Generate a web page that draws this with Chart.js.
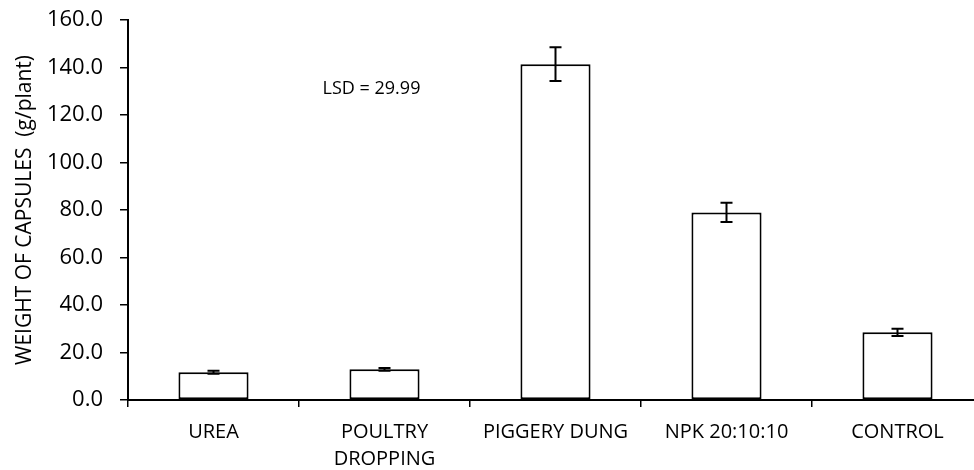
<!DOCTYPE html>
<html>
<head>
<meta charset="utf-8">
<script src="https://cdn.jsdelivr.net/npm/chart.js@4.4.0/dist/chart.umd.min.js"></script>
<style>
  html, body { margin: 0; padding: 0; background: #fff; overflow: hidden; }
  #wrap { width: 990px; height: 470px; }
</style>
</head>
<body>
<div id="wrap"><canvas id="chart" width="990" height="470"></canvas></div>
<script>
// data
const categories = ['UREA', ['POULTRY', 'DROPPING'], 'PIGGERY DUNG', 'NPK 20:10:10', 'CONTROL']
const weights = [11.7, 12.9, 141.4, 79.0, 28.5]
const errors = [0.6, 0.6, 7.1, 4.1, 1.5]
const yTicks = [0, 20, 40, 60, 80, 100, 120, 140, 160]
const lsdText = 'LSD = 29.99'

const FONT = "'Open Sans', 'Liberation Sans', sans-serif"

// error bars drawn through the scales
const errorBars = {
  id: 'errorBars',
  afterDatasetsDraw(chart) {
    const ctx = chart.ctx
    const y = chart.scales.y
    const meta = chart.getDatasetMeta(0)
    ctx.save()
    ctx.strokeStyle = '#000'
    ctx.lineWidth = 2
    meta.data.forEach((bar, i) => {
      const top = y.getPixelForValue(weights[i] + errors[i])
      const bot = y.getPixelForValue(weights[i] - errors[i])
      ctx.beginPath()
      ctx.moveTo(bar.x, top); ctx.lineTo(bar.x, bot)
      ctx.moveTo(bar.x - 6, top); ctx.lineTo(bar.x + 6, top)
      ctx.moveTo(bar.x - 6, bot); ctx.lineTo(bar.x + 6, bot)
      ctx.stroke()
    })
    ctx.restore()
  }
}

// LSD note
const lsdNote = {
  id: 'lsdNote',
  afterDraw(chart) {
    const ctx = chart.ctx
    const x = chart.scales.x.getPixelForValue(1) - 13
    const y = chart.scales.y.getPixelForValue(131)
    ctx.save()
    ctx.fillStyle = '#000'
    ctx.font = '18px ' + FONT
    ctx.textAlign = 'center'
    ctx.textBaseline = 'middle'
    ctx.fillText(lsdText, x, y)
    ctx.restore()
  }
}

new Chart(document.getElementById('chart'), {
  type: 'bar',
  data: {
    labels: categories,
    datasets: [{
      data: weights,
      backgroundColor: '#fff',
      borderColor: '#000',
      borderWidth: 2,
      borderSkipped: false,
      categoryPercentage: 1,
      barPercentage: 0.41
    }]
  },
  options: {
    responsive: false,
    animation: false,
    layout: { padding: { top: 20, left: 0, right: 7, bottom: 0 } },
    plugins: {
      legend: { display: false },
      tooltip: { enabled: false }
    },
    scales: {
      x: {
        grid: { drawOnChartArea: false, drawTicks: true, tickLength: 7, color: '#000', lineWidth: 1.5, offset: true },
        border: { color: '#000', width: 2 },
        ticks: { color: '#000', font: { family: FONT, size: 20, lineHeight: 1.38 }, padding: 11, maxRotation: 0, autoSkip: false },
        afterFit: s => { s.height = 70; s.paddingLeft = 0; s.paddingRight = 0 }
      },
      y: {
        min: 0,
        max: 160,
        afterBuildTicks: s => { s.ticks = yTicks.map(v => ({ value: v })) },
        grid: { drawOnChartArea: false, drawTicks: true, tickLength: 8, color: '#000', lineWidth: 1.5 },
        border: { color: '#000', width: 2 },
        ticks: { color: '#000', font: { family: FONT, size: 22 }, padding: 17, callback: v => v.toFixed(1) },
        title: { display: true, text: 'WEIGHT OF CAPSULES  (g/plant)', color: '#000', font: { family: FONT, size: 21 }, padding: { top: 12, bottom: 0 } },
        afterFit: s => { s.width = 128; s.paddingTop = 0; s.paddingBottom = 0 }
      }
    }
  },
  plugins: [errorBars, lsdNote]
})
</script>
</body>
</html>
